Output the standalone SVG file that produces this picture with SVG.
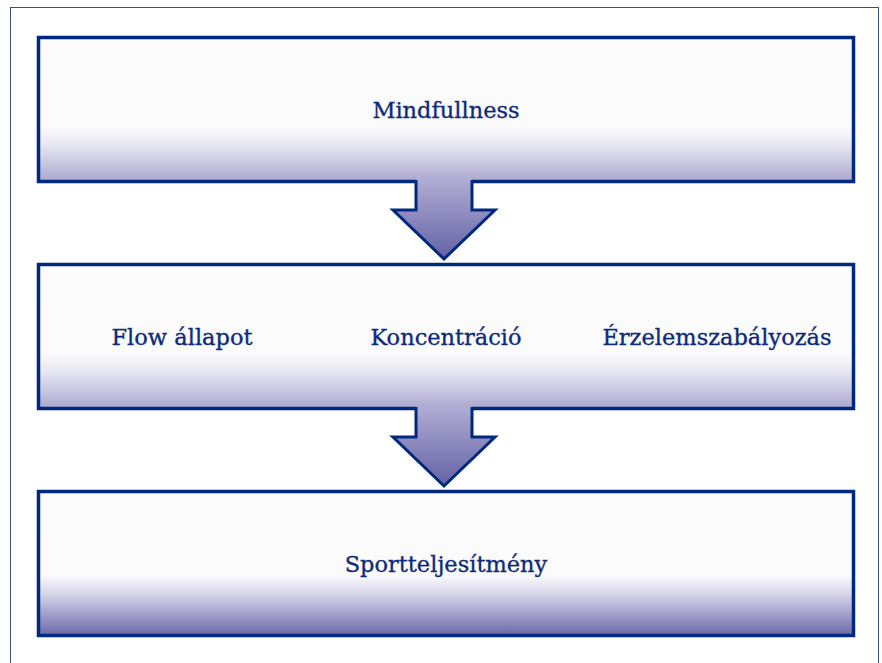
<svg xmlns="http://www.w3.org/2000/svg" width="882" height="663" viewBox="0 0 882 663">
<defs>
<linearGradient id="gBox" x1="0" y1="0" x2="0" y2="1">
<stop offset="0" stop-color="#fcfcfc"/>
<stop offset="0.62" stop-color="#fbfbfc"/>
<stop offset="0.75" stop-color="#e6e5f1"/>
<stop offset="1" stop-color="#aaa7cf"/>
</linearGradient>
<linearGradient id="gBox3" x1="0" y1="0" x2="0" y2="1">
<stop offset="0" stop-color="#fcfcfc"/>
<stop offset="0.58" stop-color="#fbfbfc"/>
<stop offset="0.72" stop-color="#d4d2e8"/>
<stop offset="1" stop-color="#6b68a8"/>
</linearGradient>
<linearGradient id="gArrow" x1="0" y1="0" x2="0" y2="1">
<stop offset="0" stop-color="#b0add5"/>
<stop offset="1" stop-color="#6361a4"/>
</linearGradient>
</defs>
<style>
.box{stroke:#00287e;stroke-width:3.5}
.afill{fill:url(#gArrow);stroke:none}
.aline{fill:none;stroke:#00287e;stroke-width:3;stroke-linejoin:miter}
.lbl{font-family:"DejaVu Serif","Liberation Serif",serif;font-size:22.5px;fill:#0e2b7a;stroke:#0e2b7a;stroke-width:0.35;text-anchor:middle}
</style>
<rect x="0" y="0" width="882" height="663" fill="#ffffff"/>
<rect x="10.5" y="7.5" width="868" height="670" fill="none" stroke="#3a4890" stroke-width="1"/>
<g id="node-mindfulness">
<rect class="box" x="38.5" y="37.5" width="815" height="144" fill="url(#gBox)"/>
<text class="lbl" x="446" y="118">Mindfullness</text>
</g>
<g id="node-mediators">
<rect class="box" x="38.5" y="264.5" width="815" height="144" fill="url(#gBox)"/>
<text class="lbl" x="182" y="345">Flow állapot</text>
<text class="lbl" x="446" y="345">Koncentráció</text>
<text class="lbl" x="717" y="345">Érzelemszabályozás</text>
</g>
<g id="node-performance">
<rect class="box" x="38.5" y="491.5" width="815" height="144" fill="url(#gBox3)"/>
<text class="lbl" x="446" y="572">Sportteljesítmény</text>
</g>
<g id="connectors">
<g id="arrow-1">
<polygon class="afill" points="416,179 472,179 472,210 495,210 444,259 393,210 416,210"/>
<polyline class="aline" points="416,180 416,210 393,210 444,259 495,210 472,210 472,180"/>
</g>
<g id="arrow-2">
<polygon class="afill" points="416,406 472,406 472,437 495,437 444,486 393,437 416,437"/>
<polyline class="aline" points="416,407 416,437 393,437 444,486 495,437 472,437 472,407"/>
</g>
</g>
</svg>
